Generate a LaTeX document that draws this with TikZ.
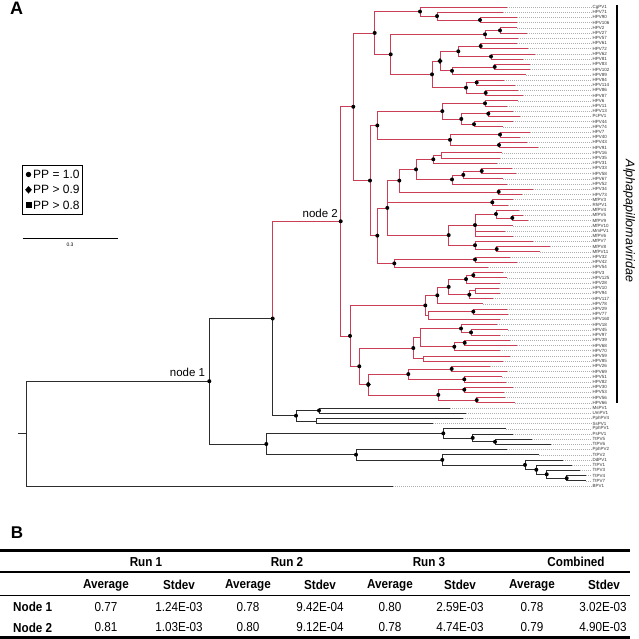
\documentclass[tikz,border=0pt]{standalone}
\usepackage{fontspec}
\setmainfont{Liberation Sans}
\newfontfamily\narrowfont[FakeStretch=0.9]{Liberation Sans}
\definecolor{alphared}{RGB}{204,62,86}
\definecolor{branchgray}{RGB}{45,45,45}
\definecolor{leadergray}{RGB}{175,175,175}

\tikzset{
  alphabranch/.style={draw=alphared, line width=0.7pt},
  outbranch/.style={draw=branchgray, line width=0.7pt},
  leader/.style={draw=leadergray, line width=0.35pt, dash pattern=on 1.2pt off 0.8pt},
  tiplabel/.style={anchor=west, inner sep=0.5pt, text=black!80, font=\fontsize{4.5}{5}\selectfont},
  treelabel/.style={inner sep=0pt, font=\fontsize{11.5}{12}\selectfont},
  legtext/.style={anchor=west, inner sep=0pt, font=\fontsize{12}{13}\selectfont},
  tabhead/.style={inner sep=0pt, font=\narrowfont\bfseries\fontsize{13}{14}\selectfont},
  tabcell/.style={inner sep=0pt, font=\narrowfont\fontsize{13}{14}\selectfont},
}

\begin{document}
\begin{tikzpicture}[x=1pt, y=-1pt]
  \useasboundingbox (0,0) rectangle (639,639);

  % tips: index / name / tip x
  \foreach \i/\lab/\tx in {1/CgPV1/507, 2/HPV71/503, 3/HPV90/517, 4/HPV106/517, 5/HPV2/517,
      6/HPV27/527, 7/HPV57/518, 8/HPV61/517, 9/HPV72/528, 10/HPV62/535, 11/HPV81/523,
      12/HPV83/530, 13/HPV102/530, 14/HPV89/526, 15/HPV84/504, 16/HPV114/515, 17/HPV86/518,
      18/HPV87/523, 19/HPV6/518, 20/HPV11/507, 21/HPV13/513, 22/PcPV1/520, 23/HPV44/513,
      24/HPV74/503, 25/HPV7/530, 26/HPV40/520, 27/HPV43/527, 28/HPV91/538, 29/HPV16/502,
      30/HPV35/500, 31/HPV31/497, 32/HPV33/512, 33/HPV58/516, 34/HPV67/503, 35/HPV52/507,
      36/HPV34/533, 37/HPV73/522, 38/MfPV3/513, 39/RhPV1/508, 40/MfPV4/519, 41/MfPV5/523,
      42/MfPV9/528, 43/MfPV10/513, 44/MmPV1/505, 45/MfPV6/513, 46/MfPV7/533, 47/MfPV8/550,
      48/MfPV11/540, 49/HPV32/510, 50/HPV42/517, 51/HPV54/488, 52/HPV3/503, 53/HPV125/507,
      54/HPV28/500, 55/HPV10/499, 56/HPV94/500, 57/HPV117/493, 58/HPV78/483, 59/HPV29/507,
      60/HPV77/508, 61/HPV160/500, 62/HPV18/497, 63/HPV45/508, 64/HPV97/500, 65/HPV39/510,
      66/HPV68/517, 67/HPV70/500, 68/HPV59/510, 69/HPV85/503, 70/HPV26/490, 71/HPV69/507,
      72/HPV51/502, 73/HPV82/506, 74/HPV30/513, 75/HPV53/504, 76/HPV56/505, 77/HPV66/515,
      78/MsPV1/450, 79/UmPV1/466, 80/PphPV4/463, 81/SsPV1/433, 82/PphPV1/506, 83/PsPV1/513,
      84/TtPV5/532, 85/TtPV6/551, 86/PphPV2/507, 87/TtPV2/539, 88/DdPV1/563, 89/TtPV1/572,
      90/TtPV3/580, 91/TtPV4/586, 92/TtPV7/586, 93/BPV1/393} {
    \coordinate (\lab) at (\tx, {7+(\i-1)*5.207});
    \node[tiplabel] (t\i) at (592, {7+(\i-1)*5.207}) {\lab};
    \draw[leader] (\lab) -- (t\i.west);
  }

  % backbone and outgroups
  \coordinate (stub) at (18,433.6);
  \coordinate (root) at (26,433.6);
  \coordinate (node1) at (209.3,381.2);
  \coordinate (nX) at (272.7,318.5);
  \coordinate (Y) at (296,415.7);
  \coordinate (Y1) at (319,410.5);
  \coordinate (Y2) at (316.7,420.9);
  \coordinate (Z) at (266.3,444.0);
  \coordinate (Z1) at (443.3,433.35);
  \coordinate (Z1a) at (472.7,437.9);
  \coordinate (Z1b) at (495,441.8);
  \coordinate (Z2) at (356,454.7);
  \coordinate (Z2a) at (442.3,459.85);
  \coordinate (Z2b) at (525,464.9);
  \coordinate (Z2c) at (536.3,469.75);
  \coordinate (Z2d) at (546.7,474.3);
  \coordinate (Z2e) at (566.7,478.2);

  % alphapapillomaviruses
  \coordinate (node2) at (340.7,221.3);
  \coordinate (A) at (353.3,106.76);
  \coordinate (B) at (374.7,32.95);
  \coordinate (C1) at (420,11.55);
  \coordinate (C1a) at (437,16.1);
  \coordinate (C1b) at (480,20.0);
  \coordinate (C2) at (390.7,54.34);
  \coordinate (D1) at (485,34.3);
  \coordinate (D1a) at (500,30.4);
  \coordinate (D2) at (432,74.37);
  \coordinate (E1) at (440,61.04);
  \coordinate (E1a) at (458.3,51.28);
  \coordinate (E1c) at (480.7,46.05);
  \coordinate (E1d) at (491,56.5);
  \coordinate (E1b) at (452,70.8);
  \coordinate (E1e) at (494.7,66.9);
  \coordinate (E2) at (466,87.7);
  \coordinate (E2a) at (476.7,82.5);
  \coordinate (E2b) at (485.7,92.9);
  \coordinate (F) at (370,180.56);
  \coordinate (G) at (377.3,125.47);
  \coordinate (G1) at (442.3,111.13);
  \coordinate (G1a) at (485,103.3);
  \coordinate (G1b) at (461.3,118.95);
  \coordinate (G1c) at (488.3,113.7);
  \coordinate (G1d) at (474,124.2);
  \coordinate (G2) at (450,139.8);
  \coordinate (G2a) at (500,134.6);
  \coordinate (G2b) at (499,145.0);
  \coordinate (H) at (377.3,235.65);
  \coordinate (I) at (387.3,207.9);
  \coordinate (I1) at (399.3,180.6);
  \coordinate (I1a) at (416,169.38);
  \coordinate (I1c) at (433.3,159.3);
  \coordinate (I1e) at (441.7,155.4);
  \coordinate (I1d) at (452,179.45);
  \coordinate (I1f) at (463.3,174.9);
  \coordinate (I1g) at (481.7,171.0);
  \coordinate (I1b) at (498.7,191.85);
  \coordinate (M1) at (492.3,202.3);
  \coordinate (I2) at (448.7,235.1);
  \coordinate (I2a) at (475,225.05);
  \coordinate (I2c) at (496,214.0);
  \coordinate (I2d) at (512.3,217.9);
  \coordinate (I2b) at (475,245.2);
  \coordinate (I2e) at (496.7,249.1);
  \coordinate (J) at (394.3,263.4);
  \coordinate (J1) at (475,259.5);
  \coordinate (K) at (350,335.9);
  \coordinate (Q) at (425.3,305.43);
  \coordinate (Q1) at (437.3,295.35);
  \coordinate (Q2) at (448.7,286.9);
  \coordinate (Q3) at (466,279.1);
  \coordinate (Q5) at (473.3,275.2);
  \coordinate (Q4) at (469.3,294.7);
  \coordinate (Q6) at (475,290.8);
  \coordinate (R) at (428,315.5);
  \coordinate (R1) at (473.3,311.6);
  \coordinate (S) at (359.3,366.3);
  \coordinate (T) at (413.3,348.05);
  \coordinate (V) at (420,337.6);
  \coordinate (V1) at (461,328.5);
  \coordinate (V2) at (471,332.4);
  \coordinate (V3) at (454.3,346.75);
  \coordinate (V4) at (464.7,342.8);
  \coordinate (W) at (423.3,358.5);
  \coordinate (U) at (368.3,384.5);
  \coordinate (U1) at (408.3,374.1);
  \coordinate (U3) at (451.7,368.9);
  \coordinate (U4) at (464.3,379.3);
  \coordinate (U2) at (438.3,394.9);
  \coordinate (U5) at (464.3,389.7);
  \coordinate (U6) at (476.7,400.1);

  % black branches
  \draw[outbranch] (stub) -- (root);
  \foreach \p/\c in {root/node1, root/BPV1, node1/nX, node1/Z, nX/Y, Y/Y1, Y/Y2,
      Y1/MsPV1, Y1/UmPV1, Y2/PphPV4, Y2/SsPV1, Z/Z1, Z/Z2, Z1/PphPV1, Z1/Z1a, Z1a/PsPV1,
      Z1a/Z1b, Z1b/TtPV5, Z1b/TtPV6, Z2/PphPV2, Z2/Z2a, Z2a/TtPV2, Z2a/Z2b, Z2b/DdPV1,
      Z2b/Z2c, Z2c/TtPV1, Z2c/Z2d, Z2d/TtPV3, Z2d/Z2e, Z2e/TtPV4, Z2e/TtPV7}
    \draw[outbranch] (\p) |- (\c);

  % red branches
  \foreach \p/\c in {nX/node2, node2/A, node2/K, A/B, A/F, B/C1, B/C2,
      C1/CgPV1, C1/C1a, C1a/HPV71, C1a/C1b, C1b/HPV90, C1b/HPV106,
      C2/D1, C2/D2, D1/D1a, D1/HPV57, D1a/HPV2, D1a/HPV27,
      D2/E1, D2/E2, E1/E1a, E1/E1b, E1a/E1c, E1a/E1d, E1c/HPV61, E1c/HPV72, E1d/HPV62,
      E1d/HPV81, E1b/E1e, E1b/HPV89, E1e/HPV83, E1e/HPV102,
      E2/E2a, E2/E2b, E2a/HPV84, E2a/HPV114, E2b/HPV86, E2b/HPV87,
      F/G, F/H, G/G1, G/G2, G1/G1a, G1/G1b, G1a/HPV6, G1a/HPV11, G1b/G1c, G1b/G1d,
      G1c/HPV13, G1c/PcPV1, G1d/HPV44, G1d/HPV74,
      G2/G2a, G2/G2b, G2a/HPV7, G2a/HPV40, G2b/HPV43, G2b/HPV91,
      H/I, H/J, I/I1, I/M1, I/I2,
      I1/I1a, I1/I1b, I1a/I1c, I1a/I1d, I1c/I1e, I1c/HPV31, I1e/HPV16, I1e/HPV35,
      I1d/I1f, I1d/HPV52, I1f/I1g, I1f/HPV67, I1g/HPV33, I1g/HPV58, I1b/HPV34, I1b/HPV73,
      M1/MfPV3, M1/RhPV1,
      I2/I2a, I2/I2b, I2a/I2c, I2a/MfPV10, I2a/MmPV1, I2a/MfPV6, I2c/MfPV4, I2c/I2d,
      I2d/MfPV5, I2d/MfPV9, I2b/MfPV7, I2b/I2e, I2e/MfPV8, I2e/MfPV11,
      J/J1, J/HPV54, J1/HPV32, J1/HPV42,
      K/Q, K/S, Q/Q1, Q/R, Q1/Q2, Q1/HPV78, Q2/Q3, Q2/Q4, Q3/Q5, Q3/HPV28, Q5/HPV3,
      Q5/HPV125, Q4/Q6, Q4/HPV117, Q6/HPV10, Q6/HPV94, R/R1, R/HPV160, R1/HPV29, R1/HPV77,
      S/T, S/U, T/V, T/W, V/V1, V/V3, V1/HPV18, V1/V2, V2/HPV45, V2/HPV97, V3/V4,
      V3/HPV70, V4/HPV39, V4/HPV68, W/HPV59, W/HPV85,
      U/U1, U/U2, U1/U3, U1/U4, U3/HPV26, U3/HPV69, U4/HPV51, U4/HPV82, U2/U5, U2/U6,
      U5/HPV30, U5/HPV53, U6/HPV56, U6/HPV66}
    \draw[alphabranch] (\p) |- (\c);

  % posterior probabilities
  \foreach \n in {node1, nX, Y, Y1, Z, Z1, Z1a, Z1b, Z2, Z2a, Z2b, Z2c, Z2d, Z2e,
      node2, A, B, C1, C1a, C1b, C2, D1, D1a, D2, E1a, E1c, E1d, E1b, E1e, E2, E2a, E2b,
      F, G, G1, G1a, G1b, G1c, G1d, G2, G2a, G2b, H, I, I1, I1a, I1c, I1d, I1f, I1g, I1b,
      M1, I2, I2a, I2c, I2d, I2b, I2e, J, J1, K, Q, Q1, Q2, Q3, Q5, Q4, R1, S, T, V1, V2,
      V3, V4, U1, U3, U4, U2, U5, U6}
    \fill (\n) circle (2pt);
  \foreach \n in {E1, U}
    \fill[shift={(\n)}] (0,-3) -- (2.5,0) -- (0,3) -- (-2.5,0) -- cycle;

  \node[treelabel, anchor=south east, xshift=-4pt, yshift=4.5pt] (lab1) at (node1) {node 1};
  \node[treelabel, anchor=south east, xshift=-2.7pt, yshift=3pt] (lab2) at (node2) {node 2};

  % clade bar
  \coordinate (bartop) at (617,5);
  \coordinate (barbot) at (617,403);
  \draw[line width=2.2pt] (bartop) -- (barbot);
  \node[rotate=-90, inner sep=0pt, font=\itshape\fontsize{12.5}{13}\selectfont] (family) at (629,221) {Alphapapillomaviridae};

  % legend and scale
  \node[inner sep=0pt, font=\bfseries\fontsize{18}{18}\selectfont] (panelA) at (16.5,8.5) {A};
  \draw[line width=0.8pt] (22.7,165.7) rectangle (82,214);
  \fill (28.5,174.5) circle (2.7pt);
  \fill[shift={(28.5,189.8)}] (0,-3.8) -- (3.3,0) -- (0,3.8) -- (-3.3,0) -- cycle;
  \fill (26,202.3) rectangle (31.5,207.8);
  \node[legtext] (pp1) at (33,174.5) {PP = 1.0};
  \node[legtext] (pp2) at (33,189.8) {PP > 0.9};
  \node[legtext] (pp3) at (33,205) {PP > 0.8};
  \coordinate (sbl) at (22.7,238.3);
  \coordinate (sbr) at (118.3,238.3);
  \draw[line width=0.8pt] (sbl) -- (sbr);
  \node[inner sep=0pt, font=\fontsize{5}{6}\selectfont] (sblab) at (70,244.5) {0.3};

  % table B
  \node[inner sep=0pt, font=\bfseries\fontsize{17}{17}\selectfont] (panelB) at (17,533) {B};
  \draw[line width=2.6pt] (0,550.5) -- (630,550.5);
  \draw[line width=2.4pt] (0,572) -- (630,572);
  \draw[line width=0.9pt] (0,595) -- (630,595);
  \draw[line width=2.6pt] (0,637.5) -- (630,637.5);
  \foreach \x/\t [count=\k] in {146/Run 1, 287/Run 2, 429/Run 3, 576/Combined}
    \node[tabhead] (run\k) at (\x,562) {\t};
  \foreach \x/\t [count=\k] in {106/Average, 179/Stdev, 248/Average, 320/Stdev,
      390/Average, 460/Stdev, 532/Average, 604/Stdev}
    \node[tabhead] (sub\k) at (\x,585) {\t};
  \node[tabhead, anchor=west] (row1) at (13,607) {Node 1};
  \node[tabhead, anchor=west] (row2) at (13,627.5) {Node 2};
  \foreach \x/\a/\b [count=\k] in {106/0.77/0.81, 179/1.24E-03/1.03E-03, 248/0.78/0.80,
      320/9.42E-04/9.12E-04, 390/0.80/0.78, 460/2.59E-03/4.74E-03, 532/0.78/0.79,
      603/3.02E-03/4.90E-03} {
    \node[tabcell] (a\k) at (\x,607) {\a};
    \node[tabcell] (b\k) at (\x,627.5) {\b};
  }
\end{tikzpicture}
\end{document}
